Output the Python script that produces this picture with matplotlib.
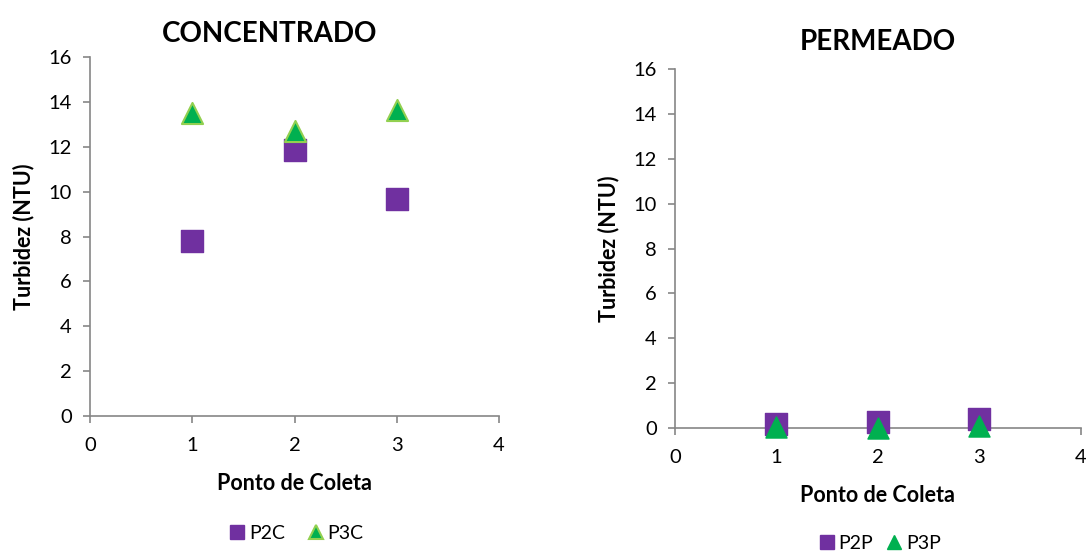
import matplotlib.pyplot as plt
from matplotlib.lines import Line2D

plt.rcParams["font.family"] = ["Lato", "DejaVu Sans"]

# data
pontos = [1, 2, 3]
p2c = [7.8, 11.85, 9.67]
p3c = [13.5, 12.7, 13.65]
p2p = [0.18, 0.25, 0.38]
p3p = [0.04, 0.02, 0.09]

purple = "#7030A0"
green = "#00B050"
edge_green = "#92D050"
grey = "#868686"

fig = plt.figure(figsize=(10.86, 5.53), dpi=100)
ax1 = fig.add_axes([0.0829, 0.2477, 0.3766, 0.649])
ax2 = fig.add_axes([0.6215, 0.226, 0.3738, 0.649])


def style(ax, title, title_x, title_y):
    ax.set_xlim(0, 4)
    ax.set_ylim(0, 16)
    ax.set_xticks(range(0, 5))
    ax.set_yticks(range(0, 17, 2))
    for s in ["top", "right"]:
        ax.spines[s].set_visible(False)
    for s in ["left", "bottom"]:
        ax.spines[s].set_color(grey)
        ax.spines[s].set_linewidth(1.2)
    ax.tick_params(direction="out", length=5, width=1.2, color=grey,
                   labelsize=14.5)
    ax.tick_params(axis="x", pad=10)
    ax.tick_params(axis="y", pad=8)
    ax.set_xlabel("Ponto de Coleta", fontsize=15.5, fontweight="bold", labelpad=14)
    ax.set_ylabel("Turbidez (NTU)", fontsize=15.5, fontweight="bold", labelpad=10)
    ax.set_title(title, fontsize=20, fontweight="bold", x=title_x, y=title_y)


# Concentrado
ax1.scatter(pontos, p2c, marker="s", s=230, color=purple, edgecolors=purple,
            clip_on=False, zorder=3)
ax1.scatter(pontos, p3c, marker="^", s=230, color=green, edgecolors=edge_green,
            linewidths=1.5, clip_on=False, zorder=4)
style(ax1, "CONCENTRADO", 0.44, 1.02)
h1 = [Line2D([], [], marker="s", ls="", color=purple, markersize=10, label="P2C"),
      Line2D([], [], marker="^", ls="", color=green, markeredgecolor=edge_green,
             markeredgewidth=1.5, markersize=10, label="P3C")]
ax1.legend(handles=h1, loc="upper center", bbox_to_anchor=(0.5, -0.255), ncol=2,
           frameon=False, fontsize=14, handletextpad=0.0, handlelength=1.2,
           columnspacing=1.0)

# Permeado
ax2.scatter(pontos, p2p, marker="s", s=230, color=purple, edgecolors=purple,
            clip_on=False, zorder=3)
ax2.scatter(pontos, p3p, marker="^", s=230, color=green, edgecolors=green,
            clip_on=False, zorder=4)
style(ax2, "PERMEADO", 0.5, 1.03)
h2 = [Line2D([], [], marker="s", ls="", color=purple, markersize=10, label="P2P"),
      Line2D([], [], marker="^", ls="", color=green, markersize=10, label="P3P")]
ax2.legend(handles=h2, loc="upper center", bbox_to_anchor=(0.5, -0.265), ncol=2,
           frameon=False, fontsize=14, handletextpad=0.0, handlelength=1.2,
           columnspacing=0.5, borderaxespad=0.2)

fig.savefig("out.png", dpi=100)
